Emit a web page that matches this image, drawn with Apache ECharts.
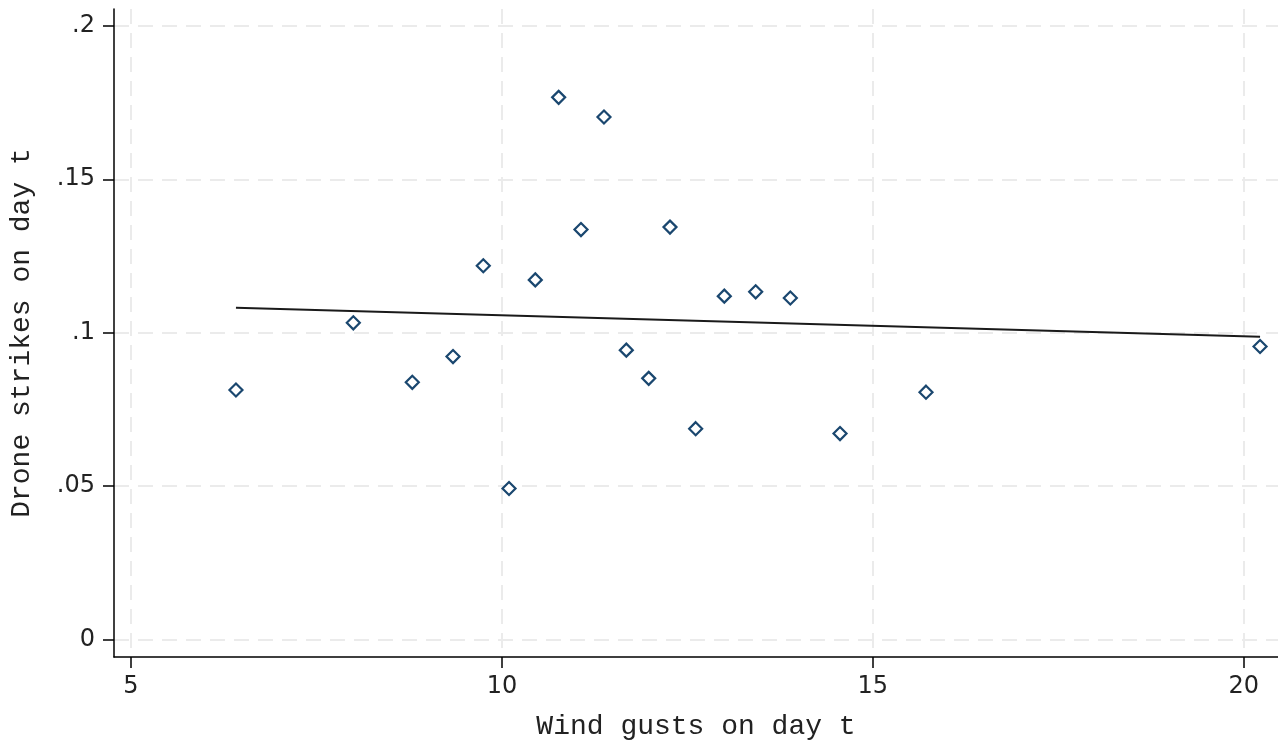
<!DOCTYPE html>
<html>
<head>
<meta charset="utf-8">
<script src="https://cdn.jsdelivr.net/npm/echarts@6/dist/echarts.min.js"></script>
<style>
html,body{margin:0;padding:0;background:#fff;}
#chart{width:1278px;height:746px;}
</style>
</head>
<body>
<div id="chart"></div>
<script>
// Wind gusts on day t (x) and drone strikes on day t (y)
var windGusts = [6.415, 7.997, 8.792, 9.341, 9.749, 10.096, 10.45, 10.765, 11.376, 11.066,
                 12.266, 11.677, 11.979, 12.612, 12.998, 13.421, 13.888, 14.558, 15.717, 20.22];
var droneStrikes = [0.0813, 0.1032, 0.0838, 0.0922, 0.1218, 0.0492, 0.1172, 0.1767, 0.1703, 0.1336,
                    0.1344, 0.0943, 0.0851, 0.0687, 0.1119, 0.1133, 0.1113, 0.0671, 0.0806, 0.0955];
// Linear fit line endpoints
var fitX = [6.415, 20.22];
var fitY = [0.1081, 0.0987];
// Ticks
var xTickValues = [5, 10, 15, 20];
var yTickValues = [0, 0.05, 0.1, 0.15, 0.2];
var yTickLabels = ["0", ".05", ".1", ".15", ".2"];

var scatterData = windGusts.map(function (x, i) { return [x, droneStrikes[i]]; });
var fitData = fitX.map(function (x, i) { return [x, fitY[i]]; });

var titleFont = "'Courier New', 'Liberation Mono', monospace";
var tickFont = "'DejaVu Sans', sans-serif";
var gridLine = { show: true, lineStyle: { color: '#ebebeb', width: 2, type: [15, 9] } };

var chart = echarts.init(document.getElementById('chart'), null, { renderer: 'canvas' });
chart.setOption({
  animation: false,
  backgroundColor: '#ffffff',
  grid: { left: 114, right: 0, top: 9, bottom: 84, containLabel: false },
  xAxis: {
    type: 'value',
    min: 4.771, max: 20.462,
    name: 'Wind gusts on day t',
    nameLocation: 'middle',
    nameGap: 56,
    nameTextStyle: { fontFamily: titleFont, fontSize: 28, color: '#222' },
    axisLine: { show: true, onZero: false, lineStyle: { color: '#000', width: 1.5 } },
    axisTick: { show: true, length: 11, customValues: xTickValues, lineStyle: { color: '#000', width: 1.5 } },
    axisLabel: { customValues: xTickValues, margin: 18, fontFamily: tickFont, fontSize: 24, color: '#222' },
    splitLine: gridLine
  },
  yAxis: {
    type: 'value',
    min: -0.00573, max: 0.2055,
    name: 'Drone strikes on day t',
    nameLocation: 'middle',
    nameGap: 78,
    nameTextStyle: { fontFamily: titleFont, fontSize: 28, color: '#222' },
    axisLine: { show: true, onZero: false, lineStyle: { color: '#000', width: 1.5 } },
    axisTick: { show: true, length: 11, customValues: yTickValues, lineStyle: { color: '#000', width: 1.5 } },
    axisLabel: {
      customValues: yTickValues, margin: 19, fontFamily: tickFont, fontSize: 24, color: '#222',
      formatter: function (v) {
        for (var i = 0; i < yTickValues.length; i++) {
          if (Math.abs(v - yTickValues[i]) < 1e-9) return yTickLabels[i];
        }
        return '';
      }
    },
    splitLine: gridLine
  },
  series: [
    {
      type: 'scatter',
      data: scatterData,
      symbol: 'diamond',
      symbolSize: 13,
      itemStyle: { color: '#ffffff', borderColor: '#1a476f', borderWidth: 2.2, opacity: 1 },
      z: 3
    },
    {
      type: 'line',
      data: fitData,
      symbol: 'none',
      lineStyle: { color: '#1a1a1a', width: 2 },
      z: 2
    }
  ]
});
</script>
</body>
</html>
